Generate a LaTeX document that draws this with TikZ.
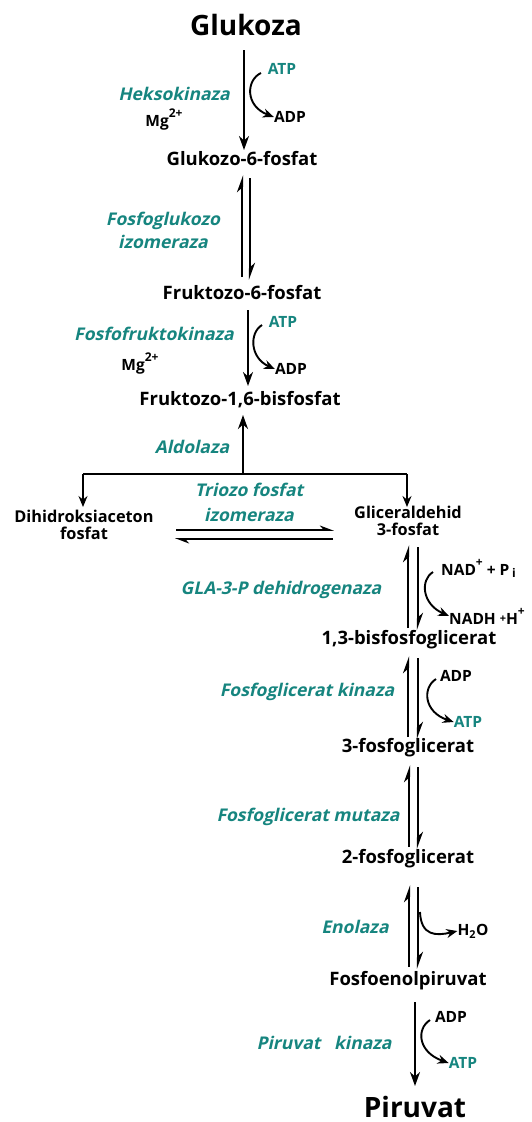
\documentclass[tikz,border=0pt]{standalone}
\usepackage{fontspec}
\setmainfont{Open Sans}
\newfontfamily\enzfont{Open Sans}[BoldFeatures={FakeSlant=0.22}]
\usetikzlibrary{arrows.meta}
\definecolor{teal1}{RGB}{22,133,127}
\begin{document}
\begin{tikzpicture}[x=1pt,y=-1pt,
  lbl/.style={font=\bfseries\fontsize{18.5}{20}\selectfont, inner sep=0pt, align=center},
  big/.style={font=\bfseries\fontsize{28}{30}\selectfont, inner sep=0pt},
  enz/.style={font=\enzfont\bfseries\fontsize{17.5}{23}\selectfont, text=teal1, inner sep=0pt, align=center},
  sm/.style={font=\bfseries\fontsize{15.5}{17}\selectfont, inner sep=0pt},
  smt/.style={sm, text=teal1},
  tri/.style={font=\bfseries\fontsize{16.3}{17}\selectfont, inner sep=0pt, align=center},
  main/.style={line width=2.3pt, -{Stealth[length=14pt,width=10pt]}},
  half/.style={line width=2.3pt, -{Stealth[harpoon,length=14pt,width=10pt]}},
  halfthin/.style={line width=1.6pt, -{Stealth[harpoon,length=12pt,width=9pt]}},
  thin/.style={line width=1.6pt, -{Stealth[length=11pt,width=9pt]}},
  side/.style={line width=1.9pt, -{Stealth[length=11pt,width=9pt]}},
]
\useasboundingbox (0,0) rectangle (531,1122);
\fill[white] (0,0) rectangle (531,1122);
\newcommand{\sups}[1]{\raisebox{9pt}{\fontsize{12}{12}\selectfont #1}}

% Glukoza -> G6P
\node[big, anchor=base] (glu) at (246,35) {Glukoza};
\coordinate (a1s) at (244,50); \coordinate (a1e) at (244,150);
\draw[main] (a1s) -- (a1e);
\node[smt] (atp1) at (282,69) {ATP};
\node[sm] (adp1) at (290,117) {ADP};
\draw[side] (261,73) .. controls (246,80) and (245,106) .. (adp1.west);
\node[enz] (hk) at (174,94) {Heksokinaza};
\node[sm] (mg1) at (164,120) {Mg\sups{2+}};
\node[lbl] (g6p) at (242,159) {Glukozo-6-fosfat};

% G6P <-> F6P
\coordinate (b1) at (242,277); \coordinate (b2) at (242,175);
\coordinate (b3) at (250,178); \coordinate (b4) at (250,280);
\draw[half] (b1) -- (b2);
\draw[half] (b3) -- (b4);
\node[enz] (pgi) at (163,230) {Fosfoglukozo\\izomeraza};
\node[lbl] (f6p) at (242,293) {Fruktozo-6-fosfat};

% F6P -> F16BP
\coordinate (c1) at (248,310); \coordinate (c2) at (248,386);
\draw[main] (c1) -- (c2);
\node[smt] (atp2) at (283,322) {ATP};
\node[sm] (adp2) at (291,369) {ADP};
\draw[side] (262,325) .. controls (249,333) and (250,358) .. (adp2.west);
\node[enz] (pfk) at (154,334) {Fosfofruktokinaza};
\node[sm] (mg2) at (140,364) {Mg\sups{2+}};
\node[lbl] (f16) at (240,400) {Fruktozo-1,6-bisfosfat};

% Aldolaza
\coordinate (d0) at (243,474); \coordinate (d1) at (243,415);
\coordinate (dl) at (83,474); \coordinate (dr) at (407,474);
\draw[main] (d0) -- (d1);
\node[enz] (ald) at (192,447) {Aldolaza};
\draw[line width=1.6pt] (dl) -- (dr);
\coordinate (dle) at (83,507); \coordinate (dre) at (407,507);
\draw[thin] (dl) -- (dle);
\draw[thin] (dr) -- (dre);
\node[tri] (dhap) at (84,525) {Dihidroksiaceton\\fosfat};
\node[enz, font=\enzfont\bfseries\fontsize{17.5}{25}\selectfont] (tpi) at (249,502) {Triozo fosfat\\izomeraza};
\node[tri] (gap) at (408,521) {Gliceraldehid\\3-fosfat};
\coordinate (e1) at (176,530); \coordinate (e2) at (334,530);
\coordinate (e3) at (333,539); \coordinate (e4) at (175,539);
\draw[halfthin] (e1) -- (e2);
\draw[halfthin] (e3) -- (e4);

% GAP <-> 1,3-BPG
\coordinate (f1) at (408,628); \coordinate (f2) at (408,545);
\coordinate (f3) at (418,547); \coordinate (f4) at (418,630);
\draw[half] (f1) -- (f2);
\draw[half] (f3) -- (f4);
\node[sm, anchor=west] (nad) at (441,568) {NAD\sups{+} + P\,\raisebox{-2pt}{\fontsize{12}{12}\selectfont i}};
\node[sm, anchor=west] (nadh) at (449,616) {NADH \raisebox{2pt}{\fontsize{11}{11}\selectfont +}H\sups{+}};
\draw[side] (433,572) .. controls (420,580) and (422,604) .. (nadh.west);
\node[enz] (gapdh) at (281,590) {GLA-3-P dehidrogenaza};
\node[lbl] (bpg) at (409,640) {1,3-bisfosfoglicerat};

% 1,3-BPG <-> 3PG
\coordinate (g1) at (408,737); \coordinate (g2) at (408,656);
\coordinate (g3) at (418,658); \coordinate (g4) at (418,739);
\draw[half] (g1) -- (g2);
\draw[half] (g3) -- (g4);
\node[sm] (adp3) at (456,676) {ADP};
\node[smt] (atp3) at (468,722) {ATP};
\draw[side] (436,679) .. controls (422,688) and (424,712) .. (atp3.west);
\node[enz] (pgk) at (307,692) {Fosfoglicerat kinaza};
\node[lbl] (pg3) at (408,748) {3-fosfoglicerat};

% 3PG <-> 2PG
\coordinate (h1) at (409,847); \coordinate (h2) at (409,765);
\coordinate (h3) at (418,767); \coordinate (h4) at (418,849);
\draw[half] (h1) -- (h2);
\draw[half] (h3) -- (h4);
\node[enz] (pgm) at (308,817) {Fosfoglicerat mutaza};
\node[lbl] (pg2) at (408,859) {2-fosfoglicerat};

% 2PG <-> PEP
\coordinate (i1) at (409,967); \coordinate (i2) at (409,885);
\coordinate (i3) at (418,887); \coordinate (i4) at (418,969);
\draw[half] (i1) -- (i2);
\draw[half] (i3) -- (i4);
\node[sm] (h2o) at (473,931) {H\textsubscript{2}O};
\coordinate (hs) at (420,912);
\draw[side] (hs) .. controls (421,936) and (436,936) .. (h2o.west);
\node[enz] (eno) at (355,927) {Enolaza};
\node[lbl] (pep) at (408,981) {Fosfoenolpiruvat};

% PEP -> Piruvat
\coordinate (j1) at (415,1002); \coordinate (j2) at (415,1086);
\draw[main] (j1) -- (j2);
\node[sm] (adp4) at (451,1017) {ADP};
\node[smt] (atp4) at (463,1063) {ATP};
\draw[side] (430,1020) .. controls (416,1029) and (418,1052) .. (atp4.west);
\node[enz] (pk) at (324,1043) {Piruvat\ \ \ kinaza};
\node[big, anchor=base] (pyr) at (415,1117) {Piruvat};
\end{tikzpicture}
\end{document}
